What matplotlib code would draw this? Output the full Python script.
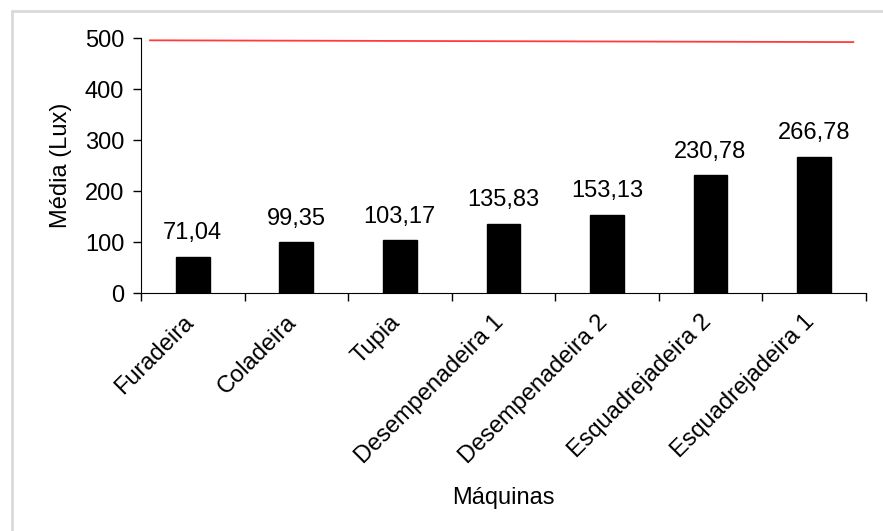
import matplotlib.pyplot as plt
import matplotlib.transforms as mtransforms
from matplotlib.patches import Rectangle

plt.rcParams['font.family'] = ['Liberation Sans', 'DejaVu Sans']

# medias de iluminancia por maquina
maquinas = ["Furadeira", "Coladeira", "Tupia", "Desempenadeira 1",
            "Desempenadeira 2", "Esquadrejadeira 2", "Esquadrejadeira 1"]
media = [71.04, 99.35, 103.17, 135.83, 153.13, 230.78, 266.78]
rotulos = ["71,04", "99,35", "103,17", "135,83", "153,13", "230,78", "266,78"]

# linha de referencia (nivel recomendado)
limite_x = [-0.413, 6.38]
limite_y = [495.5, 492]

fs = 17

fig = plt.figure(figsize=(8.83, 5.31), dpi=100, facecolor="white")
ax = fig.add_axes([0.1597, 0.4482, 0.8207, 0.4802])

# moldura cinza em volta do grafico
fig.patches.append(Rectangle((12 / 883, -0.05), 1.0, 1 - 11 / 531 + 0.05,
                             transform=fig.transFigure, fill=False,
                             edgecolor="#d9d9d9", lw=2))

x = range(len(maquinas))
barras = ax.bar(x, media, width=0.325, color="black", edgecolor="black")
for b, txt in zip(barras, rotulos):
    ax.annotate(txt, (b.get_x() + b.get_width() / 2, b.get_height()),
                xytext=(0, 9), textcoords="offset points",
                ha="center", va="bottom", fontsize=fs)

ax.plot(limite_x, limite_y, color="#ff3b3b", lw=1.3)

ax.set_xlim(-0.5, len(maquinas) - 0.5)
ax.set_ylim(0, 500)
ax.set_yticks([0, 100, 200, 300, 400, 500])
ax.set_xticks(x)
ax.set_xticklabels(maquinas, rotation=45, ha="right", fontsize=fs)
ax.set_xticks([i - 0.5 for i in range(len(maquinas) + 1)], minor=True)
ax.tick_params(axis="x", which="major", length=0, pad=13)
ax.tick_params(axis="x", which="minor", length=6, width=1)
ax.tick_params(axis="y", length=6, width=1, labelsize=fs, pad=6)

# desloca os nomes das maquinas um pouco para a direita
desloc = mtransforms.ScaledTranslation(5 / 100, 0, fig.dpi_scale_trans)
for lbl in ax.get_xticklabels():
    lbl.set_transform(lbl.get_transform() + desloc)

for s in ["top", "right"]:
    ax.spines[s].set_visible(False)

ax.set_ylabel("Média (Lux)", fontsize=fs, labelpad=9)
ax.set_xlabel("Máquinas", fontsize=fs, labelpad=14)

plt.savefig("out.png", dpi=100)
